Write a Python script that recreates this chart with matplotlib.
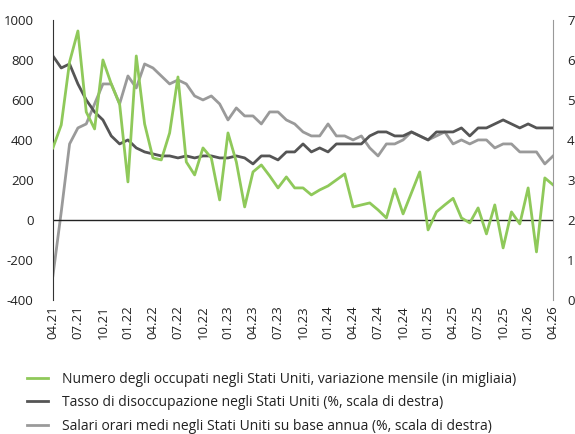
import matplotlib
matplotlib.use("Agg")
import matplotlib.pyplot as plt
import numpy as np

plt.rcParams["font.family"] = ["Open Sans", "DejaVu Sans"]
plt.rcParams["axes.unicode_minus"] = False

# monthly data, 04.21 .. 04.26
payrolls = [360, 475, 790, 945, 540, 455, 800, 680, 580, 190,
            820, 480, 310, 300, 435, 715, 290, 225, 360, 310,
            100, 435, 290, 65, 240, 275, 220, 160, 215, 160,
            160, 125, 150, 170, 200, 230, 65, 75, 85, 50,
            10, 155, 30, 135, 240, -50, 40, 75, 108, 10,
            -15, 60, -70, 75, -140, 40, -20, 160, -160, 210, 175]

unemployment = [6.1, 5.8, 5.9, 5.4, 5.0, 4.7, 4.5, 4.1, 3.9, 4.0,
                3.8, 3.7, 3.65, 3.6, 3.6, 3.55, 3.6, 3.55, 3.6, 3.6,
                3.55, 3.55, 3.6, 3.55, 3.4, 3.6, 3.6, 3.5, 3.7, 3.7,
                3.9, 3.7, 3.8, 3.7, 3.9, 3.9, 3.9, 3.9, 4.1, 4.2,
                4.2, 4.1, 4.1, 4.2, 4.1, 4.0, 4.2, 4.2, 4.2, 4.3,
                4.1, 4.3, 4.3, 4.4, 4.5, 4.4, 4.3, 4.4, 4.3, 4.3, 4.3]

wages = [0.6, 2.2, 3.9, 4.3, 4.4, 4.9, 5.4, 5.4, 4.9, 5.6,
         5.3, 5.9, 5.8, 5.6, 5.4, 5.5, 5.4, 5.1, 5.0, 5.1,
         4.9, 4.5, 4.8, 4.6, 4.6, 4.4, 4.7, 4.7, 4.5, 4.4,
         4.2, 4.1, 4.1, 4.4, 4.1, 4.1, 4.0, 4.1, 3.8, 3.6,
         3.9, 3.9, 4.0, 4.2, 4.1, 4.0, 4.1, 4.2, 3.9, 4.0,
         3.9, 4.0, 4.0, 3.8, 3.9, 3.9, 3.7, 3.7, 3.7, 3.4, 3.6]

tick_labels = ["04.21", "07.21", "10.21", "01.22", "04.22", "07.22", "10.22",
               "01.23", "04.23", "07.23", "10.23", "01.24", "04.24", "07.24",
               "10.24", "01.25", "04.25", "07.25", "10.25", "01.26", "04.26"]

legend_labels = [
    "Numero degli occupati negli Stati Uniti, variazione mensile (in migliaia)",
    "Tasso di disoccupazione negli Stati Uniti (%, scala di destra)",
    "Salari orari medi negli Stati Uniti su base annua (%, scala di destra)",
]

green = "#8fc95a"
dark = "#555555"
light = "#9a9a9a"

x = np.arange(len(payrolls))

fig = plt.figure(figsize=(5.75, 4.34), dpi=100)
ax = fig.add_axes([0.092, 0.309, 0.87, 0.645])
ax2 = ax.twinx()

l1, = ax.plot(x, payrolls, color=green, lw=2, zorder=3)
l2, = ax2.plot(x, unemployment, color=dark, lw=2, zorder=3)
l3, = ax2.plot(x, wages, color=light, lw=2, zorder=2)
ax.set_zorder(ax2.get_zorder() + 1)
ax.patch.set_visible(False)

ax.axhline(0, color="#222222", lw=1, zorder=1)

ax.set_xlim(0, 60)
ax.set_ylim(-400, 1000)
ax.set_yticks(np.arange(-400, 1001, 200))
ax2.set_ylim(0, 7)
ax2.set_yticks(np.arange(0, 8, 1))

ax.set_xticks(x[::3])
ax.set_xticklabels(tick_labels, rotation=90, fontsize=9, color="#333333")

for a in (ax, ax2):
    for s in ("top", "bottom"):
        a.spines[s].set_visible(False)
    a.tick_params(length=0, labelsize=9.5, colors="#222222")
ax.spines["left"].set_color("#333333")
ax.spines["right"].set_visible(False)
ax2.spines["left"].set_visible(False)
ax2.spines["right"].set_color("#999999")
ax.tick_params(axis="y", pad=14)
ax2.tick_params(axis="y", pad=10)
ax.tick_params(axis="x", pad=4)

fig.legend([l1, l2, l3], legend_labels, loc="upper left",
           bbox_to_anchor=(0.025, 0.172), frameon=False, fontsize=10,
           handlelength=1.5, handletextpad=1.0, labelspacing=0.6,
           labelcolor="#222222")

fig.savefig("out.png", dpi=100)
